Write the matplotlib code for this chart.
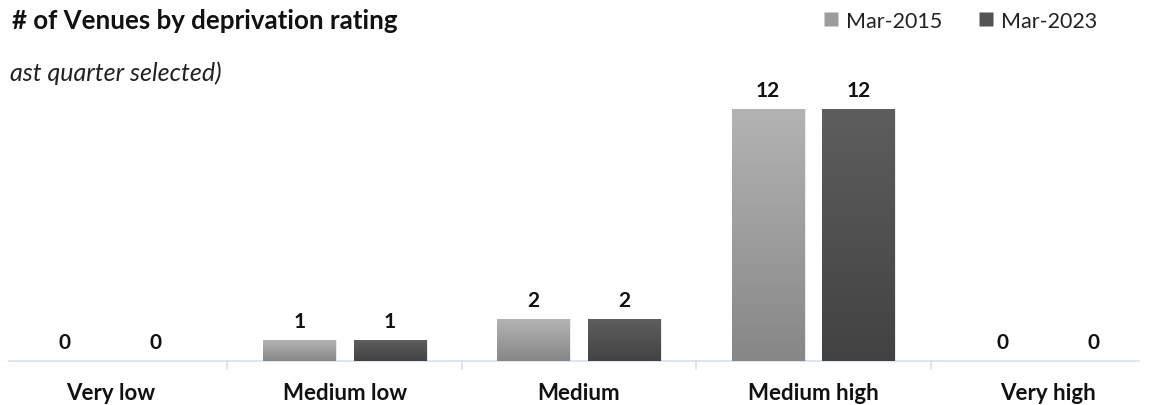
import matplotlib

matplotlib.use("Agg")
import matplotlib.pyplot as plt
import numpy as np
from matplotlib.colors import LinearSegmentedColormap
from matplotlib.lines import Line2D

plt.rcParams["font.family"] = ["Lato", "DejaVu Sans"]

categories = ["Very low", "Medium low", "Medium", "Medium high", "Very high"]
series_names = ["Mar-2015", "Mar-2023"]
venues_2015 = [0, 1, 2, 12, 0]
venues_2023 = [0, 1, 2, 12, 0]

# top -> bottom gradient for each series
grad_light = ["#b3b3b3", "#878787"]
grad_dark = ["#5e5e5e", "#424242"]

W, H = 1154, 406
fig = plt.figure(figsize=(W / 100, H / 100), dpi=100)
ax = fig.add_axes([-7 / W, 44 / H, 1172 / W, 273 / H])
ax.axis("off")

x = np.arange(len(categories))
bar_w = 0.31
offset = 0.193


def gradient_bars(xs, vals, colors):
    cmap = LinearSegmentedColormap.from_list("g", colors[::-1])
    grad = np.linspace(0, 1, 256).reshape(-1, 1)
    bars = ax.bar(xs, vals, width=bar_w, color="none", edgecolor="none", zorder=2)
    for b, v in zip(bars, vals):
        if v <= 0:
            continue
        x0, y0 = b.get_x(), b.get_y()
        # soft drop shadow
        ax.add_patch(plt.Rectangle((x0 + 0.006, y0), b.get_width(), v + 0.02,
                                   facecolor="#000000", alpha=0.08, zorder=1,
                                   edgecolor="none"))
        ax.imshow(grad, cmap=cmap, origin="lower", aspect="auto",
                  extent=(x0, x0 + b.get_width(), y0, y0 + v), zorder=2)
    for xi, v in zip(xs, vals):
        ax.annotate(str(v), (xi, v), xytext=(0, 14), textcoords="offset points",
                    ha="center", va="center", fontsize=15, fontweight="bold",
                    color="#111111")


gradient_bars(x - offset, venues_2015, grad_light)
gradient_bars(x + offset, venues_2023, grad_dark)
ax.set_xlim(-0.5, 4.5)
ax.set_ylim(0, 13)

# baseline and category separators
ax.plot([-0.43, 4.39], [0, 0], color="#d6e0ee", lw=1.2, zorder=0, clip_on=False)
for sep in x[:-1] + 0.5:
    ax.plot([sep, sep], [0, -0.38], color="#d6e0ee", lw=1.2, clip_on=False)

for xi, name in zip(x, categories):
    ax.text(xi, -1.48, name, ha="center", va="center", fontsize=16,
            fontweight="bold", color="#111111")

fig.text(12 / W, 1 - 21 / H, "# of Venues by deprivation rating", ha="left",
         va="center", fontsize=18.6, fontweight="bold", color="#111111")
fig.text(10 / W, 1 - 73 / H, "ast quarter selected)", ha="left", va="center",
         fontsize=18, style="italic", color="#222222")

handles = [Line2D([], [], marker="s", ls="none", markersize=10,
                  markerfacecolor=c, markeredgecolor="none")
           for c in ("#9c9c9c", "#535353")]
fig.legend(handles, series_names, loc="center right",
           bbox_to_anchor=(1097 / W, 1 - 22 / H), ncol=2, frameon=False,
           fontsize=15.5, handletextpad=0.2, columnspacing=1.5,
           handlelength=1.0, labelcolor="#222222", borderaxespad=0,
           borderpad=0)

fig.savefig("out.png", dpi=100, facecolor="white")
